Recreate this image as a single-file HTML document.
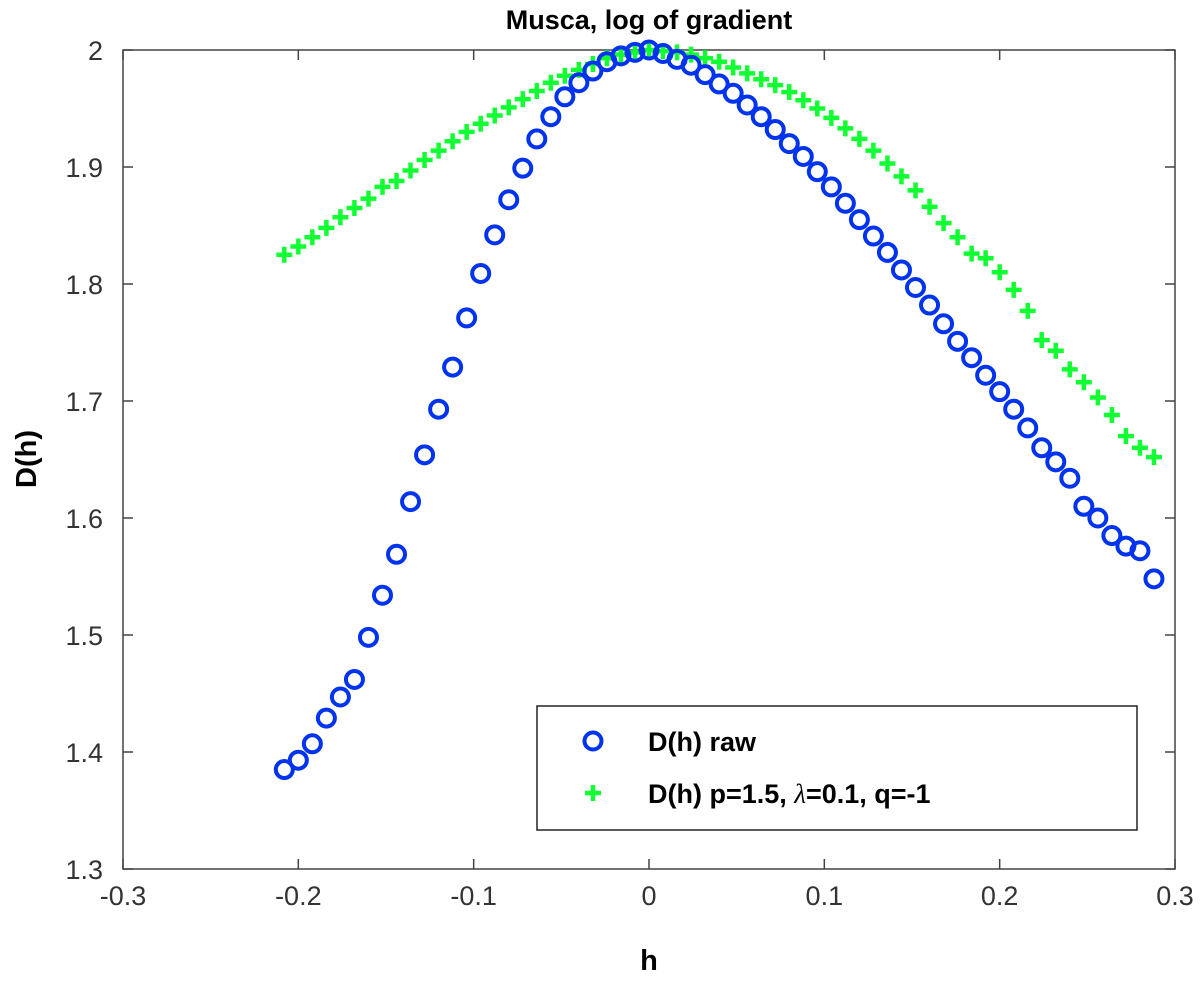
<!DOCTYPE html>
<html><head><meta charset="utf-8"><style>
body{margin:0;background:#fff;}
svg text{font-family:"Liberation Sans","DejaVu Sans",sans-serif;}
</style></head><body>
<svg id="chart" width="1200" height="984" xmlns="http://www.w3.org/2000/svg">
<text x="649" y="29" text-anchor="middle" font-size="27" font-weight="bold">Musca, log of gradient</text>
<g id="axes"></g>
<g id="marks"></g>
<text x="649" y="970" text-anchor="middle" font-size="29" font-weight="bold">h</text>
<text transform="translate(36,459) rotate(-90)" text-anchor="middle" font-size="29" font-weight="bold">D(h)</text>
<g>
<rect x="537" y="706" width="600" height="124" fill="#fff" stroke="#222" stroke-width="1.5"/>
<circle cx="593" cy="741" r="8.5" fill="none" stroke="#0033ee" stroke-width="4"/>
<text x="648" y="751" font-size="27" font-weight="bold">D(h) raw</text>
<path d="M585 793h16M593 785v16" stroke="#11ff33" stroke-width="4.5"/>
<text x="648" y="803" font-size="27" font-weight="bold">D(h) p=1.5, <tspan font-style="italic" font-weight="normal" font-family="Liberation Serif, serif">λ</tspan>=0.1, q=-1</text>
</g>
</svg>
<script>
const hValues=[-0.208,-0.200,-0.192,-0.184,-0.176,-0.168,-0.160,-0.152,-0.144,-0.136,-0.128,-0.120,-0.112,-0.104,-0.096,-0.088,-0.080,-0.072,-0.064,-0.056,-0.048,-0.040,-0.032,-0.024,-0.016,-0.008,0,0.008,0.016,0.024,0.032,0.040,0.048,0.056,0.064,0.072,0.080,0.088,0.096,0.104,0.112,0.120,0.128,0.136,0.144,0.152,0.160,0.168,0.176,0.184,0.192,0.200,0.208,0.216,0.224,0.232,0.240,0.248,0.256,0.264,0.272,0.280,0.288];
const rawValues=[1.385,1.393,1.407,1.429,1.447,1.462,1.498,1.534,1.569,1.614,1.654,1.693,1.729,1.771,1.809,1.842,1.872,1.899,1.924,1.943,1.960,1.972,1.982,1.990,1.995,1.998,2.0,1.997,1.992,1.987,1.979,1.971,1.963,1.953,1.943,1.932,1.920,1.909,1.896,1.883,1.869,1.855,1.841,1.827,1.812,1.797,1.782,1.766,1.751,1.737,1.722,1.708,1.693,1.677,1.660,1.648,1.634,1.610,1.600,1.585,1.576,1.572,1.548];
const fitValues=[1.825,1.832,1.840,1.848,1.857,1.865,1.873,1.883,1.888,1.897,1.906,1.914,1.922,1.930,1.937,1.944,1.951,1.958,1.965,1.972,1.978,1.983,1.988,1.993,1.996,1.998,2.0,1.999,1.998,1.996,1.993,1.990,1.985,1.980,1.975,1.970,1.964,1.957,1.950,1.942,1.933,1.924,1.914,1.903,1.892,1.880,1.866,1.852,1.840,1.826,1.822,1.810,1.795,1.777,1.752,1.743,1.727,1.716,1.703,1.688,1.670,1.660,1.652];
const xTicks=[-0.3,-0.2,-0.1,0,0.1,0.2,0.3];
const xTickLabels=["-0.3","-0.2","-0.1","0","0.1","0.2","0.3"];
const yTicks=[1.3,1.4,1.5,1.6,1.7,1.8,1.9,2];
const yTickLabels=["1.3","1.4","1.5","1.6","1.7","1.8","1.9","2"];
const L=123,R=1175,T=50,B=869;
const xScale=v=>L+(v+0.3)/0.6*(R-L);
const yScale=v=>B-(v-1.3)/0.7*(B-T);
const NS="http://www.w3.org/2000/svg";
function mk(tag,attrs,parent){const e=document.createElementNS(NS,tag);for(const k in attrs)e.setAttribute(k,attrs[k]);parent.appendChild(e);return e;}
const axes=document.getElementById('axes'),marks=document.getElementById('marks');
const box=mk('rect',{x:L,y:T,width:R-L,height:B-T,fill:'none',stroke:'#444','stroke-width':1.5},axes);


xTicks.forEach((t,i)=>{const x=xScale(t);
const a=mk('path',{d:`M${x} ${B}v-10M${x} ${T}v10`,stroke:'#444','stroke-width':1.5},axes);


const tx=mk('text',{x:x,y:B+36,'text-anchor':'middle','font-size':27,fill:'#333'},axes);tx.textContent=xTickLabels[i];

});
yTicks.forEach((t,i)=>{const y=yScale(t);
const a=mk('path',{d:`M${L} ${y}h10M${R} ${y}h-10`,stroke:'#444','stroke-width':1.5},axes);


const tx=mk('text',{x:L-20,y:y+10,'text-anchor':'end','font-size':27,fill:'#333'},axes);tx.textContent=yTickLabels[i];

});
hValues.forEach((h,i)=>{
const p=mk('path',{d:`M${xScale(h)-8} ${yScale(fitValues[i])}h16M${xScale(h)} ${yScale(fitValues[i])-8}v16`,stroke:'#11ff33','stroke-width':4.5},marks);

});
hValues.forEach((h,i)=>{
const c=mk('circle',{cx:xScale(h),cy:yScale(rawValues[i]),r:8.5,fill:'none',stroke:'#0033ee','stroke-width':4},marks);

});
</script>
</body></html>
